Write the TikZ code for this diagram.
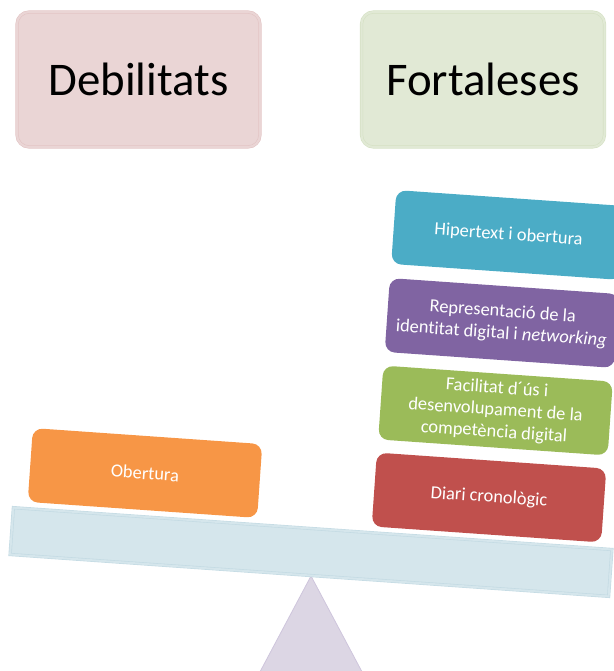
\documentclass[tikz,border=0pt]{standalone}
\usepackage{fontspec}
\setmainfont{Carlito}[Ligatures=NoCommon]
\definecolor{pinkfill}{HTML}{EAD5D5}
\definecolor{pinkbord}{HTML}{E3C5C5}
\definecolor{greenfill}{HTML}{E1E9D5}
\definecolor{greenbord}{HTML}{D5E1C4}
\definecolor{orangefill}{HTML}{F79646}
\definecolor{redfill}{HTML}{C0504D}
\definecolor{olivefill}{HTML}{9BBB59}
\definecolor{purplefill}{HTML}{8064A2}
\definecolor{cyanfill}{HTML}{4BACC6}
\definecolor{beamfill}{HTML}{D5E6EC}
\definecolor{beambord}{HTML}{C3DAE3}
\definecolor{trifill}{HTML}{DCD6E4}
\definecolor{tribord}{HTML}{CEC5DC}
\begin{document}
\begin{tikzpicture}[x=1bp,y=-1bp,
  topbox/.style={rounded corners=12bp, minimum width=243bp, minimum height=135bp,
    font=\fontsize{47}{51}\selectfont, text=black, inner sep=0pt,
    double distance=2bp, line width=0.6bp},
  itembox/.style={rounded corners=10bp, minimum width=230bp, minimum height=74bp,
    rotate=-4, text=white, font=\fontsize{18.5}{22}\selectfont, align=center, inner sep=0pt},
  beambox/.style={minimum width=600bp, minimum height=47bp, rotate=-4, inner sep=0pt,
    fill=beamfill, draw=beambord, double=beamfill, double distance=2bp, line width=0.6bp}]
\useasboundingbox (0,0) rectangle (614,671);
\clip (0,0) rectangle (614,671);
% fulcrum
\path[draw=tribord, fill=trifill, line width=0.8bp]
  (311,576) coordinate (apex) -- (245,700) coordinate (tl) -- (377,700) coordinate (tr) -- cycle;
% beam
\node[beambox] (beam) at (311,552) {};
% headings
\node[topbox, fill=pinkfill, draw=pinkbord, double=pinkfill] (deb) at (138.5,79.5) {Debilitats};
\node[topbox, fill=greenfill, draw=greenbord, double=greenfill] (fort) at (483,79.5) {Fortaleses};
% weaknesses
\node[itembox, fill=orangefill] (obert) at (145,473) {Obertura};
% strengths
\node[itembox, fill=redfill] (diari) at (489,497.5) {Diari cronològic};
\node[itembox, fill=olivefill] (facil) at (495.5,410.5) {Facilitat d´ús i\\desenvolupament de la\\competència digital};
\node[itembox, fill=purplefill] (repr) at (502,323) {Representació de la\\identitat digital i \textit{networking}};
\node[itembox, fill=cyanfill] (hiper) at (508.5,235) {Hipertext i obertura};
\end{tikzpicture}
\end{document}
